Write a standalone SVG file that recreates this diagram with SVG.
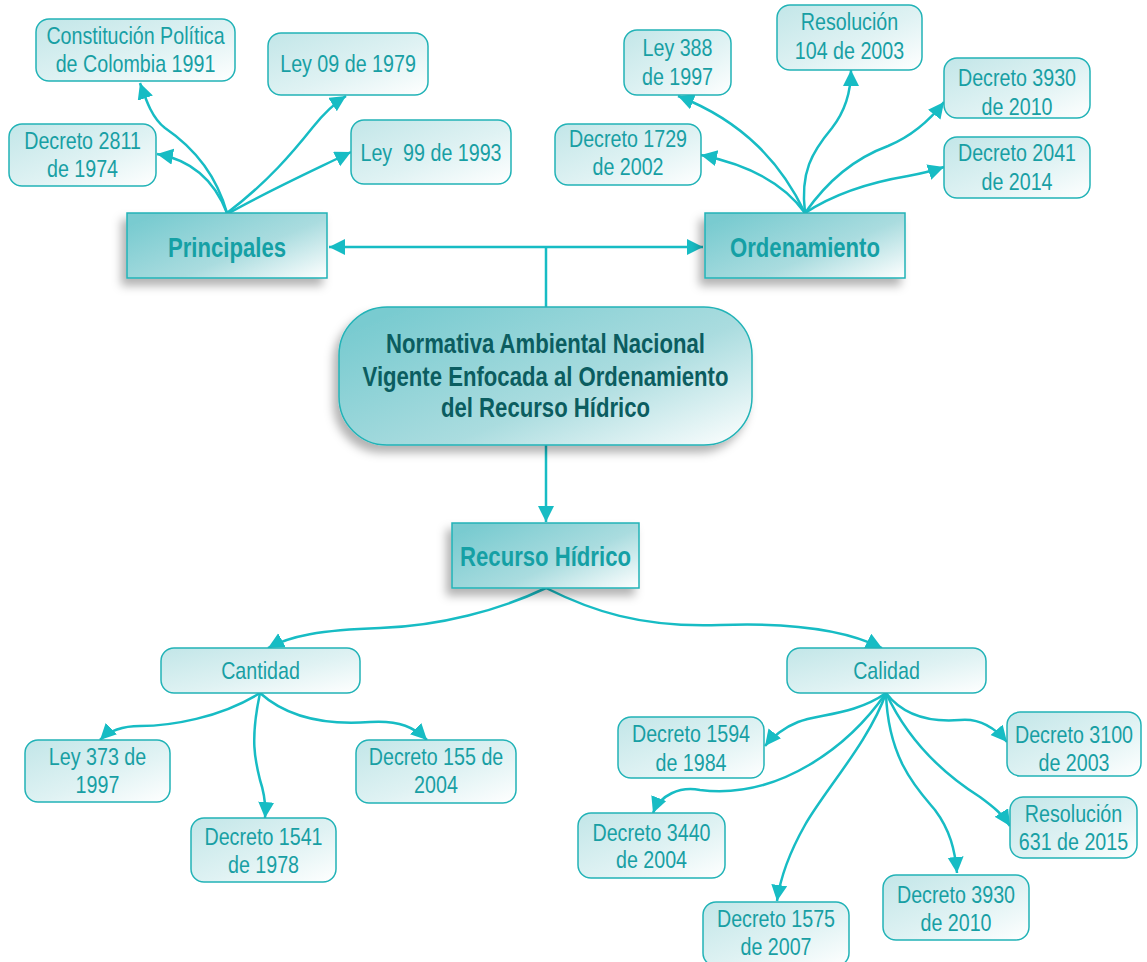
<svg xmlns="http://www.w3.org/2000/svg" width="1147" height="962" viewBox="0 0 1147 962">
<defs>
<style>
.box{stroke:#22b3b7;stroke-width:1.5;fill:url(#gLight)}
.main{stroke:#22b3b7;stroke-width:1.5;fill:url(#gDark);filter:url(#sh)}
.t{font-family:'Liberation Sans',Arial,sans-serif;font-size:24px;fill:#189fa4;text-anchor:middle}
.tb{font-family:'Liberation Sans',Arial,sans-serif;font-size:27px;font-weight:bold;fill:#15a0a5;text-anchor:middle}
.tc{font-family:'Liberation Sans',Arial,sans-serif;font-size:27px;font-weight:bold;fill:#0b5d60;text-anchor:middle}
.c{fill:none;stroke:#17bcc4;stroke-width:2.5;marker-end:url(#ah)}
</style>
<linearGradient id="gLight" x1="0" y1="0" x2="1" y2="1">
<stop offset="0" stop-color="#c2e6e8"/>
<stop offset="0.55" stop-color="#dff2f3"/>
<stop offset="1" stop-color="#ffffff"/>
</linearGradient>
<linearGradient id="gDark" x1="0" y1="0.2" x2="1" y2="1">
<stop offset="0" stop-color="#79cbd0"/>
<stop offset="0.55" stop-color="#aadcdf"/>
<stop offset="1" stop-color="#ffffff"/>
</linearGradient>
<filter id="sh" x="-20%" y="-20%" width="140%" height="150%">
<feDropShadow dx="-5" dy="7" stdDeviation="5" flood-color="#000" flood-opacity="0.3"/>
</filter>
<marker id="ah" markerUnits="userSpaceOnUse" markerWidth="18" markerHeight="18" refX="16" refY="8" orient="auto">
<path d="M0,0 L16,8 L0,16 z" fill="#17bcc4"/>
</marker>
<marker id="ahs" markerUnits="userSpaceOnUse" markerWidth="18" markerHeight="18" refX="16" refY="8" orient="auto-start-reverse">
<path d="M0,0 L16,8 L0,16 z" fill="#17bcc4"/>
</marker>
</defs>
<rect width="1147" height="962" fill="#ffffff"/>

<g id="connectors">
<path d="M329,247 L703,247" fill="none" stroke="#17bcc4" stroke-width="2.5" marker-start="url(#ahs)" marker-end="url(#ahs)"/>
<path d="M546,247 L546,307" fill="none" stroke="#17bcc4" stroke-width="2.5"/>
<path class="c" d="M546,445 L546,522"/>
<path class="c" d="M227,213 C215,170 190,145 165,128 C152,118 146,100 140,83"/>
<path class="c" d="M227,213 C215,182 192,160 157,154"/>
<path class="c" d="M227,213 C268,182 293,152 313,127 C325,112 335,103 346,96"/>
<path class="c" d="M229,213 C270,190 312,171 351,152"/>
<path class="c" d="M805,213 C785,185 750,165 701,155"/>
<path class="c" d="M805,213 C782,165 745,122 678,96"/>
<path class="c" d="M805,213 C800,172 812,152 832,128 C846,110 851,92 851,70"/>
<path class="c" d="M805,213 C830,177 858,157 888,146 C912,136 930,120 944,102"/>
<path class="c" d="M805,213 C840,190 878,181 908,176 C924,173 935,170 944,167"/>
<path class="c" d="M546,588 C500,610 440,626 380,628 C320,630 290,636 268,648"/>
<path class="c" d="M546,588 C590,610 640,628 720,625 C800,622 850,632 882,648"/>
<path class="c" d="M260,693 C220,718 170,726 140,726 C120,726 108,732 100,740"/>
<path class="c" d="M260,693 C250,740 255,760 260,780 C265,795 266,805 265,818"/>
<path class="c" d="M260,693 C290,720 330,725 370,722 C400,720 415,728 427,740"/>
<path class="c" d="M886,693 C855,715 818,714 798,722 C785,727 772,737 765,746"/>
<path class="c" d="M886,693 C850,745 780,800 700,790 C680,786 660,795 653,813"/>
<path class="c" d="M886,693 C870,740 825,790 805,825 C788,855 780,880 777,901"/>
<path class="c" d="M886,693 C888,760 918,790 935,810 C950,830 955,850 957,873"/>
<path class="c" d="M886,693 C910,745 950,778 980,797 C995,808 1003,815 1010,826"/>
<path class="c" d="M886,693 C905,718 935,722 960,720 C980,718 995,728 1007,742"/>
</g>

<g id="n-constitucion"><rect class="box" x="36" y="19" width="199" height="62" rx="13"/><text class="t" transform="matrix(0.82,0,0,1,135.5,44)">Constitución Política</text><text class="t" transform="matrix(0.82,0,0,1,135.5,72)">de Colombia 1991</text></g>
<g id="n-ley09"><rect class="box" x="268" y="33" width="160" height="62" rx="13"/><text class="t" transform="matrix(0.82,0,0,1,348,72)">Ley 09 de 1979</text></g>
<g id="n-decreto2811"><rect class="box" x="9" y="124" width="147" height="62" rx="13"/><text class="t" transform="matrix(0.82,0,0,1,82.5,149)">Decreto 2811</text><text class="t" transform="matrix(0.82,0,0,1,82.5,177)">de 1974</text></g>
<g id="n-ley99"><rect class="box" x="351" y="120" width="160" height="64" rx="13"/><text class="t" transform="matrix(0.82,0,0,1,431,161)" style="white-space:pre">Ley  99 de 1993</text></g>
<g id="n-principales"><rect class="main" x="127" y="213" width="200" height="65"/><text class="tb" transform="matrix(0.82,0,0,1,227,257)">Principales</text></g>

<g id="n-ley388"><rect class="box" x="624" y="30" width="107" height="65" rx="13"/><text class="t" transform="matrix(0.82,0,0,1,677.5,55.5)">Ley 388</text><text class="t" transform="matrix(0.82,0,0,1,677.5,84.5)">de 1997</text></g>
<g id="n-res104"><rect class="box" x="777" y="5" width="145" height="65" rx="13"/><text class="t" transform="matrix(0.82,0,0,1,849.5,30)">Resolución</text><text class="t" transform="matrix(0.82,0,0,1,849.5,59)">104 de 2003</text></g>
<g id="n-dec3930a"><rect class="box" x="944" y="58" width="146" height="60" rx="13"/><text class="t" transform="matrix(0.82,0,0,1,1017,86)">Decreto 3930</text><text class="t" transform="matrix(0.82,0,0,1,1017,115)">de 2010</text></g>
<g id="n-dec1729"><rect class="box" x="555" y="124" width="146" height="61" rx="13"/><text class="t" transform="matrix(0.82,0,0,1,628,147)">Decreto 1729</text><text class="t" transform="matrix(0.82,0,0,1,628,175)">de 2002</text></g>
<g id="n-dec2041"><rect class="box" x="944" y="137" width="146" height="61" rx="13"/><text class="t" transform="matrix(0.82,0,0,1,1017,161)">Decreto 2041</text><text class="t" transform="matrix(0.82,0,0,1,1017,190)">de 2014</text></g>
<g id="n-ordenamiento"><rect class="main" x="705" y="213" width="200" height="65"/><text class="tb" transform="matrix(0.82,0,0,1,805,257)">Ordenamiento</text></g>

<g id="n-central"><rect class="main" x="339" y="307" width="413" height="138" rx="48"/><text class="tc" transform="matrix(0.82,0,0,1,545.5,353)">Normativa Ambiental Nacional</text><text class="tc" transform="matrix(0.82,0,0,1,545.5,386)">Vigente Enfocada al Ordenamiento</text><text class="tc" transform="matrix(0.82,0,0,1,545.5,417)">del Recurso Hídrico</text></g>
<g id="n-recurso"><rect class="main" x="452" y="523" width="187" height="65"/><text class="tb" transform="matrix(0.82,0,0,1,545.5,566)">Recurso Hídrico</text></g>

<g id="n-cantidad"><rect class="box" x="161" y="648" width="199" height="45" rx="13"/><text class="t" transform="matrix(0.82,0,0,1,260.5,679)">Cantidad</text></g>
<g id="n-calidad"><rect class="box" x="787" y="648" width="199" height="45" rx="13"/><text class="t" transform="matrix(0.82,0,0,1,886.5,679)">Calidad</text></g>
<g id="n-ley373"><rect class="box" x="25" y="740" width="145" height="62" rx="13"/><text class="t" transform="matrix(0.82,0,0,1,97.5,765)">Ley 373 de</text><text class="t" transform="matrix(0.82,0,0,1,97.5,793)">1997</text></g>
<g id="n-dec1541"><rect class="box" x="191" y="818" width="145" height="64" rx="13"/><text class="t" transform="matrix(0.82,0,0,1,263.5,845)">Decreto 1541</text><text class="t" transform="matrix(0.82,0,0,1,263.5,873)">de 1978</text></g>
<g id="n-dec155"><rect class="box" x="356" y="740" width="160" height="63" rx="13"/><text class="t" transform="matrix(0.82,0,0,1,436,765)">Decreto 155 de</text><text class="t" transform="matrix(0.82,0,0,1,436,793)">2004</text></g>
<g id="n-dec1594"><rect class="box" x="618" y="717" width="146" height="61" rx="13"/><text class="t" transform="matrix(0.82,0,0,1,691,742)">Decreto 1594</text><text class="t" transform="matrix(0.82,0,0,1,691,771)">de 1984</text></g>
<g id="n-dec3440"><rect class="box" x="578" y="813" width="147" height="65" rx="13"/><text class="t" transform="matrix(0.82,0,0,1,651.5,841)">Decreto 3440</text><text class="t" transform="matrix(0.82,0,0,1,651.5,868)">de 2004</text></g>
<g id="n-dec1575"><rect class="box" x="703" y="902" width="146" height="64" rx="13"/><text class="t" transform="matrix(0.82,0,0,1,776,927)">Decreto 1575</text><text class="t" transform="matrix(0.82,0,0,1,776,955)">de 2007</text></g>
<g id="n-dec3100"><rect class="box" x="1007" y="712" width="134" height="64" rx="13"/><text class="t" transform="matrix(0.82,0,0,1,1074,743)">Decreto 3100</text><text class="t" transform="matrix(0.82,0,0,1,1074,771)">de 2003</text></g>
<g id="n-res631"><rect class="box" x="1010" y="797" width="127" height="61" rx="13"/><text class="t" transform="matrix(0.82,0,0,1,1073.5,822)">Resolución</text><text class="t" transform="matrix(0.82,0,0,1,1073.5,850)">631 de 2015</text></g>
<g id="n-dec3930b"><rect class="box" x="883" y="875" width="146" height="65" rx="13"/><text class="t" transform="matrix(0.82,0,0,1,956,903)">Decreto 3930</text><text class="t" transform="matrix(0.82,0,0,1,956,931)">de 2010</text></g>
</svg>
